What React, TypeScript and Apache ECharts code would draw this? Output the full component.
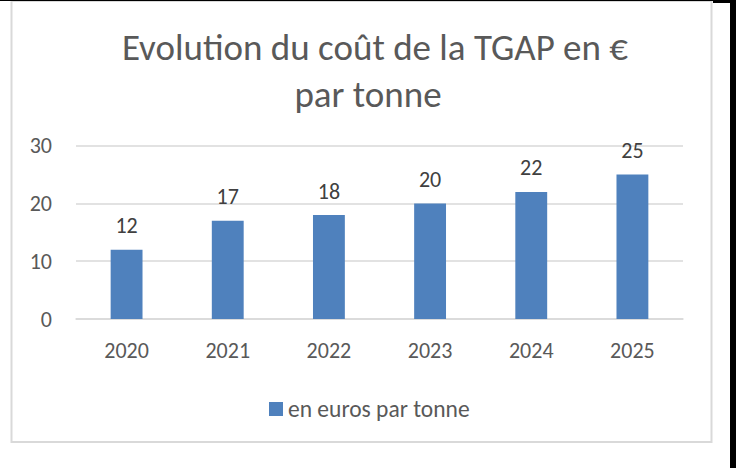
import React, { useEffect, useRef } from "react";
import * as echarts from "echarts";

const titleLines = ["Evolution du coût de la TGAP en €", "par tonne"];
const years = ["2020", "2021", "2022", "2023", "2024", "2025"];
const costPerTonne = [12, 17, 18, 20, 22, 25];
const seriesName = "en euros par tonne";
const yTicks = { min: 0, max: 30, interval: 10 };

const FONT = "Carlito, Lato, 'Open Sans', sans-serif";

export default function App() {
  const ref = useRef<HTMLDivElement>(null);
  useEffect(() => {
    if (!ref.current) return;
    const chart = echarts.init(ref.current, null, { renderer: "svg" });
    chart.setOption({
      animation: false,
      backgroundColor: "#ffffff",
      textStyle: { fontFamily: FONT },
      graphic: [
        {
          type: "rect",
          shape: { x: 11.5, y: 1, width: 700, height: 441 },
          style: { fill: "none", stroke: "#d9d9d9", lineWidth: 2 },
          silent: true,
        },
        {
          type: "rect",
          shape: { x: 0, y: 0, width: 736, height: 1 },
          style: { fill: "#000000" },
          silent: true,
        },
        {
          type: "rect",
          shape: { x: 713, y: 0, width: 23, height: 3 },
          style: { fill: "#000000" },
          silent: true,
        },
        {
          type: "rect",
          shape: { x: 730, y: 0, width: 6, height: 468 },
          style: { fill: "#000000" },
          silent: true,
        },
        {
          type: "text",
          x: 375,
          y: 47,
          style: {
            text: titleLines[0],
            fontSize: 37,
            fontWeight: 300,
            fontFamily: FONT,
            fill: "#595959",
            textAlign: "center",
            textVerticalAlign: "middle",
          },
        },
        {
          type: "text",
          x: 368,
          y: 94,
          style: {
            text: titleLines[1],
            fontSize: 37,
            fontWeight: 300,
            fontFamily: FONT,
            fill: "#595959",
            textAlign: "center",
            textVerticalAlign: "middle",
          },
        },
      ],
      legend: {
        data: [seriesName],
        left: 264,
        top: 392,
        icon: "rect",
        itemWidth: 14,
        itemHeight: 14,
        textStyle: { fontSize: 23.5, color: "#595959", fontFamily: FONT },
      },
      grid: { left: 76, right: 53, top: 145.7, bottom: 149 },
      xAxis: {
        type: "category",
        data: years,
        axisLine: { show: true, lineStyle: { color: "#d9d9d9", width: 1.5 } },
        axisTick: { show: false },
        axisLabel: { fontSize: 22, color: "#595959", margin: 20, fontFamily: FONT },
      },
      yAxis: {
        type: "value",
        min: yTicks.min,
        max: yTicks.max,
        interval: yTicks.interval,
        axisLine: { show: false },
        axisTick: { show: false },
        splitLine: { lineStyle: { color: "#d9d9d9", width: 1.5 } },
        axisLabel: { fontSize: 22, color: "#595959", margin: 24, fontFamily: FONT },
      },
      series: [
        {
          name: seriesName,
          type: "bar",
          data: costPerTonne,
          barWidth: "31.5%",
          itemStyle: { color: "#4f81bd" },
          label: {
            show: true,
            position: "top",
            distance: 13,
            fontSize: 22,
            color: "#404040",
            fontFamily: FONT,
          },
        },
      ],
    });
    return () => chart.dispose();
  }, []);
  return (
    <div
      ref={ref}
      style={{ position: "absolute", left: 0, top: 0, width: 736, height: 468 }}
    />
  );
}
